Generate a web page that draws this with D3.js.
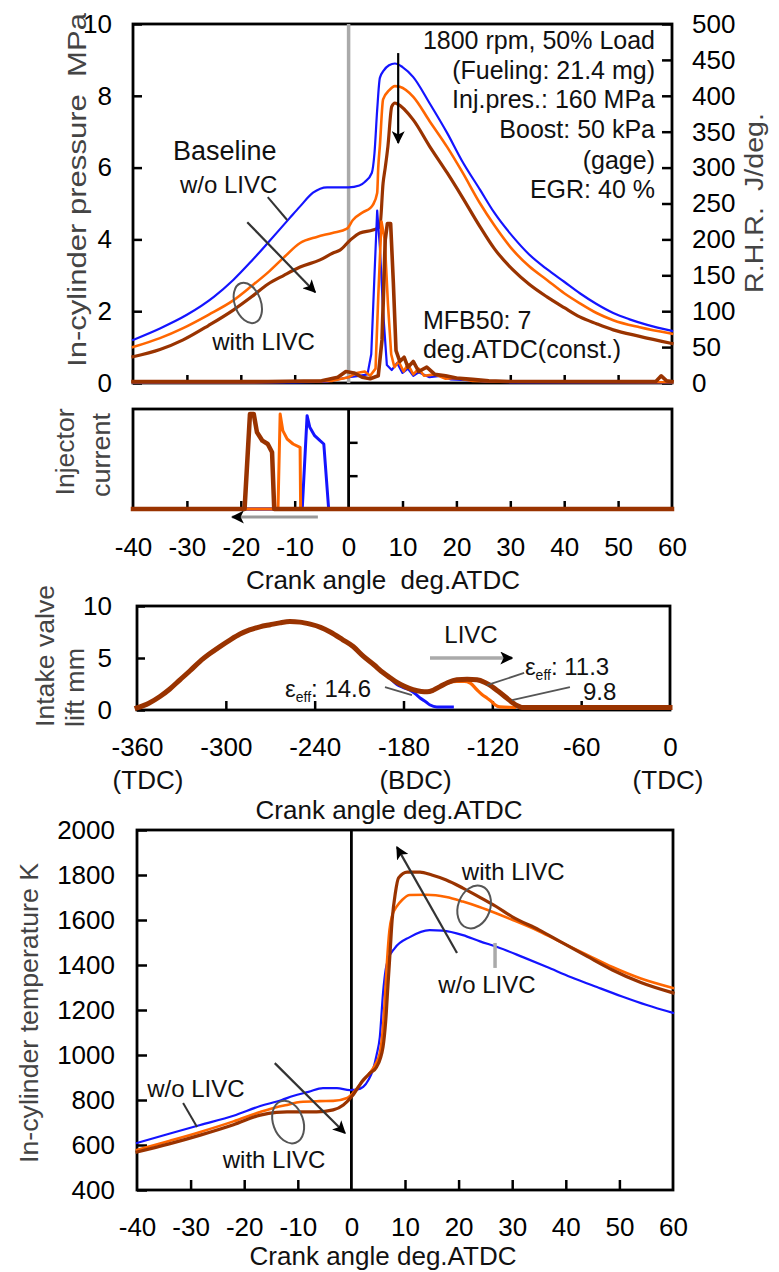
<!DOCTYPE html>
<html><head><meta charset="utf-8">
<script src="https://cdn.jsdelivr.net/npm/d3@7"></script>
<style>
html,body{margin:0;padding:0;background:#fff;}
svg{display:block;}
text{font-family:"Liberation Sans",Arial,Helvetica,sans-serif;}
</style></head><body>
<svg id="c" width="779" height="1272"></svg>
<script>
// ---------------- data ----------------
const crankTicks = [-40,-30,-20,-10,0,10,20,30,40,50,60];
const pressureTicks = [0,2,4,6,8,10];
const rhrTicks = [0,50,100,150,200,250,300,350,400,450,500];
const liftTicks = [0,5,10];
const valveTicks = [-360,-300,-240,-180,-120,-60,0];
const valveSubLabels = [[-360,"(TDC)"],[-180,"(BDC)"],[0,"(TDC)"]];
const tempTicks = [400,600,800,1000,1200,1400,1600,1800,2000];
const conditionLines = ["1800 rpm, 50% Load","(Fueling: 21.4 mg)","Inj.pres.: 160 MPa","Boost: 50 kPa","(gage)","EGR: 40 %"];

// In-cylinder pressure, MPa  [deg ATDC, MPa]
const pBlue = [[-40,1.2],[-35,1.52],[-30,1.9],[-25,2.4],[-21.4,2.87],[-18,3.4],[-15,3.9],[-10.9,4.6],[-9,4.92],[-6.6,5.3],[-4,5.45],[0,5.45],[2,5.5],[3,5.6],[4.3,5.85],[4.8,6.4],[5.3,7.6],[5.8,8.5],[6.5,8.7],[7.5,8.85],[8.6,8.9],[10,8.8],[12,8.52],[15,7.8],[18.3,6.96],[21,6.2],[24.4,5.38],[27,4.75],[30.5,4.07],[33.5,3.58],[36.8,3.17],[40,2.82],[42.9,2.5],[46,2.2],[49.1,1.95],[52,1.78],[55.4,1.62],[60,1.45]];
const pOrange = [[-40,1.0],[-35,1.25],[-30.7,1.53],[-26,1.9],[-21.4,2.3],[-18,2.7],[-15.1,3.06],[-12,3.5],[-9,3.9],[-5.9,4.07],[-3,4.18],[-0.3,4.3],[0.8,4.54],[2.7,4.76],[4,4.87],[4.5,4.96],[5.3,5.29],[5.5,6.0],[5.8,6.6],[6.4,7.9],[7.5,8.15],[8.6,8.27],[9.5,8.25],[12,7.97],[15,7.3],[18.3,6.57],[21,5.9],[24.4,5.0],[27,4.4],[30.5,3.7],[33.5,3.25],[36.8,2.87],[40,2.5],[42.9,2.22],[46,1.95],[49.1,1.75],[54,1.55],[60,1.37]];
const pBrown = [[-40,0.73],[-35,0.93],[-30.7,1.2],[-26,1.6],[-21.4,2.03],[-18,2.4],[-15,2.75],[-12,3.0],[-9,3.23],[-5.3,3.43],[-2.9,3.62],[-1.6,3.7],[0.3,3.98],[2.1,4.18],[4.5,4.26],[5.8,4.35],[6.4,5.57],[6.8,6.0],[7.3,6.6],[8.0,7.7],[8.6,7.8],[9,7.78],[12,7.33],[15,6.6],[18.3,5.85],[21,5.2],[24.4,4.35],[27,3.75],[30.5,3.15],[33.5,2.75],[36.8,2.4],[40,2.1],[42.9,1.84],[46,1.65],[49.1,1.48],[54,1.3],[60,1.1]];

// Rate of heat release, J/deg
const rhrBlue = [[-40,1],[-30,1],[-20,1],[-10,1],[-4,2],[-2,5],[0,8],[2,10],[3.5,12],[4.2,40],[4.8,150],[5.3,240],[5.8,190],[6.4,100],[7.1,25],[8,18],[9,28],[10,14],[11,20],[12,10],[13,15],[15,8],[17,10],[19,5],[22,4],[26,2],[30,1],[60,1]];
const rhrOrange = [[-40,1],[-20,1],[-8,2],[-3,3],[0,8],[1.5,14],[3,16],[4,10],[5,20],[5.5,120],[6.1,225],[6.7,200],[7.3,110],[7.9,40],[8.5,22],[9.3,30],[10.2,16],[11,26],[12,12],[13,20],[14,10],[16,12],[18,6],[20,7],[23,3],[27,2],[60,1]];
const rhrBrown = [[-40,2],[-30,2],[-15,2],[-5,3],[-2,8],[-0.5,16],[1,14],[2.5,8],[4,6],[5.5,10],[6.2,60],[6.8,200],[7.2,222],[7.8,222],[8.3,140],[8.8,45],[9.5,30],[10.3,36],[11,22],[12,30],[13,16],[14.5,22],[16,12],[18,10],[20,7],[23,5],[26,3],[30,2],[57,2],[58,10],[59,3],[60,2]];

// Injector current (arbitrary units)
const injBlue = [[-40,0],[-8.6,0],[-7.7,2.8],[-7.2,2.45],[-6.3,2.2],[-5.3,2.05],[-4.6,1.95],[-3.7,0],[60,0]];
const injOrange = [[-40,0],[-13.1,0],[-12.7,2.85],[-12.2,2.35],[-11.4,2.1],[-10.3,1.95],[-9.0,1.85],[-8.9,0],[60,0]];
const injBrown = [[-40,0],[-19.3,0],[-18.3,2.85],[-17.6,2.85],[-17.0,2.3],[-16.0,2.05],[-15.0,1.95],[-14.2,1.7],[-13.8,0],[60,0]];

// Intake valve lift, mm
const liftBrown = [[-360,0.2],[-352,0.65],[-344.5,1.3],[-338,2.0],[-331,2.9],[-324,3.8],[-317.6,4.66],[-311,5.4],[-304,6.1],[-297,6.75],[-290.4,7.3],[-284,7.7],[-277,8.0],[-270,8.2],[-263.5,8.38],[-256.7,8.5],[-250,8.45],[-243,8.25],[-236,7.95],[-229.5,7.5],[-221,6.75],[-214,6.1],[-207.4,5.2],[-200,4.35],[-193.9,3.6],[-189,3.1],[-184.4,2.65],[-179,2.25],[-173.6,1.95],[-168,1.78],[-164,1.75],[-160,1.9],[-155.4,2.25],[-150,2.65],[-144,2.9],[-137,2.95],[-130.4,2.9],[-125,2.65],[-121.6,2.4],[-117,1.9],[-112.8,1.44],[-109,1.0],[-106,0.67],[-103,0.4],[-100,0.25],[0,0.25]];
const liftOrange = [[-200,4.35],[-193.9,3.6],[-189,3.1],[-184.4,2.65],[-179,2.25],[-173.6,1.95],[-168,1.78],[-164,1.75],[-160,1.9],[-155.4,2.25],[-150,2.6],[-144,2.75],[-139,2.75],[-135,2.6],[-130.4,1.95],[-127,1.5],[-123.6,1.15],[-120,0.75],[-118.2,0.5],[-115,0.3],[-105,0.25]];
const liftBlue = [[-200,4.35],[-193.9,3.6],[-189,3.05],[-184.4,2.45],[-180,2.15],[-175.6,1.9],[-172,1.55],[-168.8,1.15],[-165,0.8],[-162,0.48],[-157.5,0.3],[-147,0.3]];

// In-cylinder temperature, K
const tBlue = [[-40,609],[-34,650],[-28.2,689],[-22,730],[-17,773],[-13,800],[-10.9,818],[-8,836],[-5.3,853],[-2.7,853],[-0.3,844],[1,846],[2.2,858],[3.2,890],[4.0,933],[4.7,1000],[5.3,1080],[5.9,1275],[6.4,1380],[6.8,1422],[8.1,1475],[10.9,1524],[14.6,1555],[17,1553],[20.8,1533],[24,1505],[27.2,1480],[32,1435],[36.5,1391],[41,1346],[45.8,1302],[50.5,1260],[55.1,1222],[60,1187]];
const tOrange = [[-40,578],[-34,618],[-28.2,658],[-22,705],[-17,747],[-14,768],[-12,778],[-9.6,791],[-6,795],[-3.4,796],[-0.8,809],[0.3,831],[2,880],[3.4,920],[4.5,960],[5.3,1009],[5.8,1100],[6.2,1231],[6.6,1400],[7.1,1555],[7.6,1620],[8.4,1658],[9.5,1690],[10.9,1711],[14,1712],[17.7,1702],[20.8,1682],[23.9,1658],[27,1630],[30.1,1600],[35,1550],[39.4,1498],[44,1445],[48.7,1391],[54,1340],[60,1298]];
const tBrown = [[-40,569],[-34,605],[-28.2,644],[-22,690],[-17,733],[-14,745],[-12,747],[-9,747],[-6.5,747],[-3.4,756],[-1.5,778],[0.3,822],[2.2,889],[3.5,920],[4.7,947],[5.9,1036],[6.4,1150],[6.8,1302],[7.2,1450],[7.6,1600],[8.2,1720],[8.8,1787],[10.4,1813],[12.8,1813],[15,1800],[17.7,1778],[20.8,1742],[23.9,1702],[27,1660],[30.1,1613],[35,1556],[39.4,1498],[44,1438],[48.7,1378],[54,1322],[60,1276]];

// ---------------- drawing ----------------
const FONT = '"Liberation Sans", Arial, Helvetica, sans-serif';
const COL = {blue:"#1414ff", orange:"#ff6600", brown:"#993300"};
const fmt = d => String(d);
const svg = d3.select("#c");
const defs = svg.append("defs");
function marker(id, color){
  defs.append("marker").attr("id",id).attr("viewBox","0 0 10 10").attr("refX",9).attr("refY",5)
    .attr("markerWidth",13).attr("markerHeight",13).attr("markerUnits","userSpaceOnUse").attr("orient","auto")
    .append("path").attr("d","M0,0 L10,5 L0,10 L2.5,5 z").attr("fill",color);
}
marker("ah","#000");

function styleAxis(g, showText){
  g.attr("font-size",26).attr("font-family",FONT);
  g.select(".domain").remove();
  g.selectAll(".tick line").attr("stroke","#000").attr("stroke-width",2.5);
  g.selectAll(".tick text").attr("fill","#000");
  if(!showText) g.selectAll(".tick text").remove();
}
function frame(x0,y0,x1,y1){
  svg.append("rect").attr("x",x0).attr("y",y0).attr("width",x1-x0).attr("height",y1-y0)
    .attr("fill","none").attr("stroke","#000").attr("stroke-width",2.8);
}
function line(data, x, y, color, w, curve){
  svg.append("path").datum(data)
    .attr("d", d3.line().x(d=>x(d[0])).y(d=>y(d[1])).curve(curve||d3.curveMonotoneX))
    .attr("fill","none").attr("stroke",color).attr("stroke-width",w)
    .attr("stroke-linejoin","round").attr("stroke-linecap","square");
}
function vtitle(x, y, txt, len, anchor){
  svg.append("text").attr("transform",`translate(${x},${y}) rotate(-90)`)
    .attr("text-anchor",anchor||"middle").attr("font-size",26).attr("fill","#444")
    .attr("textLength",len).attr("lengthAdjust","spacingAndGlyphs").style("white-space","pre").text(txt);
}
function label(x, y, txt, size, anchor, fill){
  return svg.append("text").attr("x",x).attr("y",y).attr("font-size",size||24)
    .attr("text-anchor",anchor||"start").attr("fill",fill||"#111").style("white-space","pre").text(txt);
}
function seg(x0,y0,x1,y1,color,w,arrow){
  const l = svg.append("line").attr("x1",x0).attr("y1",y0).attr("x2",x1).attr("y2",y1)
    .attr("stroke",color).attr("stroke-width",w);
  if(arrow) l.attr("marker-end","url(#ah)");
  return l;
}
function ellipse(cx,cy,rx,ry,rot){
  svg.append("ellipse").attr("cx",0).attr("cy",0).attr("rx",rx).attr("ry",ry)
    .attr("transform",`translate(${cx},${cy}) rotate(${rot})`)
    .attr("fill","none").attr("stroke","#555").attr("stroke-width",2);
}

// ===== Panel 1: pressure & RHR =====
const x1 = d3.scaleLinear().domain([-40,60]).range([133,672]);
const yP = d3.scaleLinear().domain([0,10]).range([383,24]);
const yR = d3.scaleLinear().domain([0,500]).range([383,24]);
frame(133,24,672,383);
styleAxis(svg.append("g").attr("transform","translate(133,0)")
  .call(d3.axisLeft(yP).tickValues(pressureTicks).tickSize(-9).tickPadding(21).tickFormat(fmt)), true);
styleAxis(svg.append("g").attr("transform","translate(672,0)")
  .call(d3.axisRight(yR).tickValues(rhrTicks).tickSize(-10).tickPadding(20).tickFormat(fmt)), true);
styleAxis(svg.append("g").attr("transform","translate(0,383)")
  .call(d3.axisBottom(x1).tickValues([-30,-20,-10,30,40,50]).tickSize(-8)), false);
// TDC marker
seg(x1(0),yP(10),x1(0),yP(0),"#aaa",3.5);
line(pBlue,x1,yP,COL.blue,2.2);
line(pOrange,x1,yP,COL.orange,2.6);
line(pBrown,x1,yP,COL.brown,3.2);
line(rhrBlue,x1,yR,COL.blue,2.2,d3.curveLinear);
line(rhrOrange,x1,yR,COL.orange,2.6,d3.curveLinear);
line(rhrBrown,x1,yR,COL.brown,3.6,d3.curveLinear);
vtitle(86,190,"In-cylinder pressure  MPa",354);
vtitle(763,203,"R.H.R.  J/deg.",180);
conditionLines.forEach((t,i)=>label(655,[49,79,108,138,169,198][i],t,25,"end"));
label(x1(13.8),yP(1.5),"MFB50: 7",25);
label(x1(13.8),yP(0.7),"deg.ATDC(const.)",25);
seg(x1(9.2),yP(9.19),x1(9.2),yP(6.69),"#000",2.2,true);
label(x1(-32.6),yP(6.21),"Baseline",27);
label(x1(-31.3),yP(5.29),"w/o LIVC",24);
seg(x1(-15.0),yP(5.18),x1(-11.4),yP(4.54),"#333",2);
seg(x1(-18.8),yP(4.48),x1(-6.2),yP(2.53),"#333",2.2,true);
ellipse(x1(-18.7),yP(2.23),13,21,-20);
label(x1(-25.3),yP(0.92),"with LIVC",24);

// ===== Panel 2: injector current =====
const yI = d3.scaleLinear().domain([0,3]).range([509,409]);
frame(133,409,672,509);
seg(x1(0),409,x1(0),509,"#000",2.8);
styleAxis(svg.append("g").attr("transform",`translate(${x1(0)},0)`)
  .call(d3.axisRight(yI).tickValues([1,2]).tickSize(9)), false);
styleAxis(svg.append("g").attr("transform","translate(0,509)")
  .call(d3.axisBottom(x1).tickValues([-30,-20,-10,10,20,30,40,50]).tickSize(-8)), false);
styleAxis(svg.append("g").attr("transform","translate(0,509)")
  .call(d3.axisBottom(x1).tickValues(crankTicks).tickSize(0).tickPadding(29).tickFormat(fmt)), true);
line(injBlue,x1,yI,COL.blue,3,d3.curveLinear);
line(injOrange,x1,yI,COL.orange,3,d3.curveLinear);
line(injBrown,x1,yI,COL.brown,4.5,d3.curveLinear);
seg(x1(-5.7),517,x1(-21.6),517,"#999",3,true);
vtitle(74,452,"Injector",87);
vtitle(110,455,"current",84);
label(383,589,"Crank angle  deg.ATDC",26,"middle");

// ===== Panel 3: intake valve lift =====
const xV = d3.scaleLinear().domain([-360,0]).range([137,670]);
const yV = d3.scaleLinear().domain([0,10]).range([710,606]);
frame(137,606,670,710);
styleAxis(svg.append("g").attr("transform","translate(137,0)")
  .call(d3.axisLeft(yV).tickValues(liftTicks).tickSize(-8).tickPadding(25).tickFormat(fmt)), true);
styleAxis(svg.append("g").attr("transform","translate(0,710)")
  .call(d3.axisBottom(xV).tickValues([-300,-240,-180,-120,-60]).tickSize(-9)), false);
styleAxis(svg.append("g").attr("transform","translate(0,710)")
  .call(d3.axisBottom(xV).tickValues(valveTicks).tickSize(0).tickPadding(28).tickFormat(fmt)), true);
const subShift = [11,12,-2];
valveSubLabels.forEach((d,i)=>label(xV(d[0])+subShift[i],789,d[1],26,"middle"));
line(liftBlue,xV,yV,COL.blue,3);
line(liftOrange,xV,yV,COL.orange,3.2);
line(liftBrown,xV,yV,COL.brown,5);
vtitle(54,727,"Intake valve",142,"start");
vtitle(84,727,"lift mm",79,"start");
label(389,819,"Crank angle deg.ATDC",26,"middle");
label(xV(-134.4),yV(6.44),"LIVC",24,"middle");
seg(xV(-162.1),yV(5.0),xV(-106.7),yV(5.0),"#aaa",3.5,true);
function epsLabel(x,y,val){
  const t = label(x,y,"",24);
  t.append("tspan").text("\u03b5");
  t.append("tspan").attr("font-size",14).attr("dy",5).text("eff");
  t.append("tspan").attr("dy",-5).text(": "+val);
}
epsLabel(xV(-98),yV(3.37),"11.3");
seg(xV(-123.6),yV(2.4),xV(-98.5),yV(3.56),"#555",1.8);
label(xV(-58.8),yV(0.96),"9.8",24);
seg(xV(-106.7),yV(0.96),xV(-67.6),yV(2.2),"#555",1.8);
epsLabel(xV(-260),yV(1.25),"14.6");
seg(xV(-192.5),yV(2.2),xV(-174.3),yV(1.44),"#555",1.8);

// ===== Panel 4: temperature =====
const xT = d3.scaleLinear().domain([-40,60]).range([137,673]);
const yT = d3.scaleLinear().domain([400,2000]).range([1190,830]);
frame(137,830,673,1190);
seg(xT(0),830,xT(0),1190,"#000",2.8);
styleAxis(svg.append("g").attr("transform","translate(137,0)")
  .call(d3.axisLeft(yT).tickValues(tempTicks).tickSize(-10).tickPadding(22).tickFormat(fmt)), true);
styleAxis(svg.append("g").attr("transform","translate(0,1190)")
  .call(d3.axisBottom(xT).tickValues([-30,-20,-10,10,20,30,40,50]).tickSize(-10)), false);
styleAxis(svg.append("g").attr("transform","translate(0,1190)")
  .call(d3.axisBottom(xT).tickValues(crankTicks).tickSize(0).tickPadding(28).tickFormat(fmt)), true);
line(tBlue,xT,yT,COL.blue,2.2);
line(tOrange,xT,yT,COL.orange,2.6);
line(tBrown,xT,yT,COL.brown,3.2);
vtitle(38,1013,"In-cylinder temperature K",300);
label(383,1265,"Crank angle deg.ATDC",26,"middle");
label(xT(-38.1),yT(813),"w/o LIVC",24);
seg(xT(-31.4),yT(787),xT(-28.8),yT(680),"#333",2);
seg(xT(-14.3),yT(964),xT(-1.2),yT(653),"#333",2.2,true);
ellipse(xT(-11.8),yT(702),15,22,-20);
label(xT(-24),yT(498),"with LIVC",24);
seg(xT(19.7),yT(1453),xT(8.5),yT(1924),"#333",2.2,true);
label(xT(20.6),yT(1778),"with LIVC",24);
ellipse(xT(22.9),yT(1658),16,22,20);
seg(xT(26.8),yT(1498),xT(26.8),yT(1387),"#aaa",3.5);
label(xT(16.2),yT(1276),"w/o LIVC",24);
</script>
</body></html>
